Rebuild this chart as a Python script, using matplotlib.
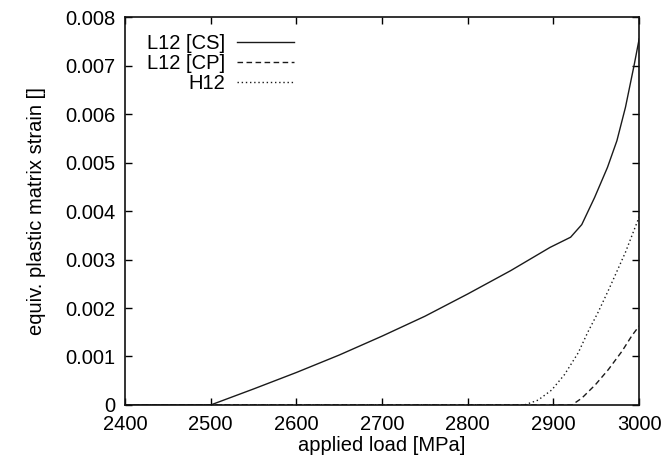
import numpy as np
import matplotlib.pyplot as plt

plt.rcParams['font.family'] = ['Liberation Sans', 'DejaVu Sans']

# equivalent plastic matrix strain vs applied load
load_cs = [2400, 2500, 2550, 2600, 2650, 2700, 2750, 2800, 2850, 2896,
           2920, 2933, 2948, 2963, 2974, 2984, 2994, 3000]
strain_cs = [0.0, 0.0, 0.00033, 0.00067, 0.00103, 0.00142, 0.00183, 0.00229,
             0.00277, 0.00325, 0.00346, 0.00372, 0.00428, 0.0049, 0.00545,
             0.00614, 0.0070, 0.00755]

load_cp = [2400, 2921.5, 2933, 2949, 2964, 2980, 2991.5, 3000]
strain_cp = [0.0, 0.0, 0.00014, 0.00042, 0.00073, 0.00111, 0.00143, 0.00163]

load_h = [2400, 2866, 2882, 2898, 2913, 2929, 2940, 2952, 2965, 2984, 3000]
strain_h = [0.0, 0.0, 0.0001, 0.00031, 0.00063, 0.00108, 0.0015, 0.00191,
            0.0024, 0.00315, 0.00388]

labels = ['L12 [CS]', 'L12 [CP]', 'H12']
xticks = [2400, 2500, 2600, 2700, 2800, 2900, 3000]
yticks = [0, 0.001, 0.002, 0.003, 0.004, 0.005, 0.006, 0.007, 0.008]

fig = plt.figure(figsize=(6.61, 4.61), dpi=100)
ax = fig.add_axes([0.189, 0.1215, 0.778, 0.8415])

lc = '#1a1a1a'
ax.plot(load_cs, strain_cs, color=lc, lw=1.0, ls='-', label=labels[0])
ax.plot(load_cp, strain_cp, color=lc, lw=1.0, ls=(0, (4, 2.5)), label=labels[1])
ax.plot(load_h, strain_h, color=lc, lw=1.0, ls=(0, (1, 2)), label=labels[2])

ax.set_xlim(2400, 3000)
ax.set_ylim(0, 0.008)
ax.set_xticks(xticks)
ax.set_yticks(yticks)
ax.set_yticklabels(['0' if v == 0 else '%.3f' % v for v in yticks])

ax.tick_params(direction='in', length=5, width=1, top=True, right=True,
               labelsize=14.5, colors='black')
ax.tick_params(axis='x', pad=7)
ax.tick_params(axis='y', pad=7)
for sp in ax.spines.values():
    sp.set_linewidth(1.2)
    sp.set_color('#111111')

ax.set_xlabel('applied load [MPa]', fontsize=14.5, labelpad=2)
ax.set_ylabel('equiv. plastic matrix strain []', fontsize=14.5, labelpad=14)

ax.legend(loc='upper left', frameon=False, markerfirst=False, fontsize=14.5,
          handlelength=2.8, handletextpad=0.6, labelspacing=0.05,
          borderaxespad=0.4, bbox_to_anchor=(0.012, 0.997))

fig.savefig('out.png', dpi=100)
